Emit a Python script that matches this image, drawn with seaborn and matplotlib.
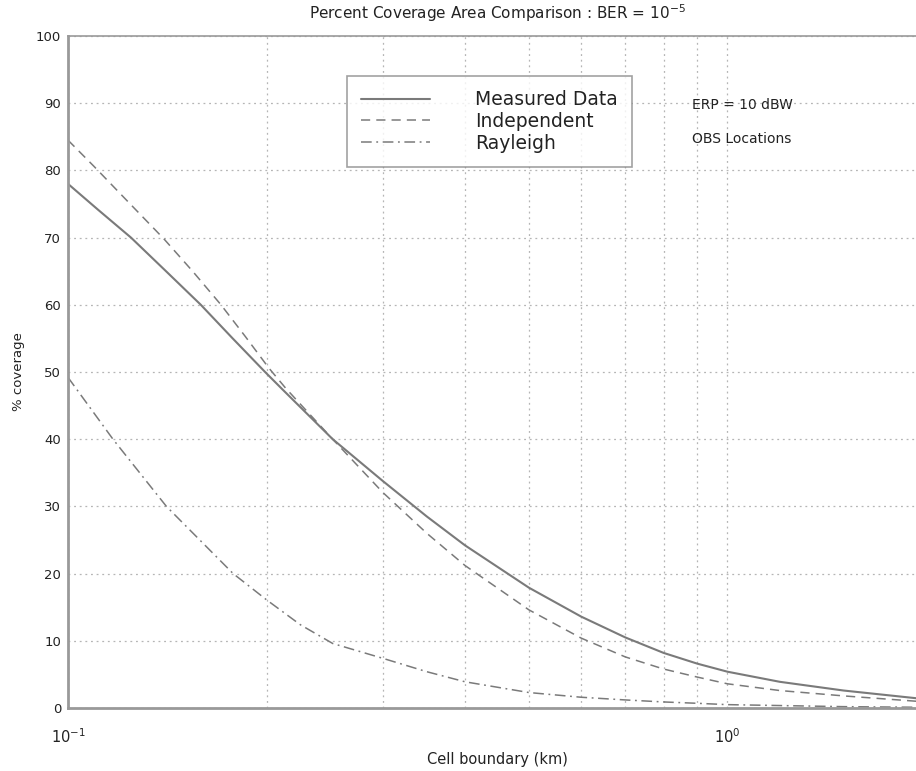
import numpy as np
import pandas as pd
import seaborn as sns
import matplotlib
matplotlib.use("Agg")
import matplotlib.pyplot as plt
from matplotlib.ticker import FixedLocator, NullFormatter

# Cell boundary (km) and % coverage for each model
measured_x = [0.1, 0.1109, 0.1246, 0.1408, 0.159, 0.1777, 0.199, 0.2115, 0.252, 0.3, 0.35, 0.4,
              0.5, 0.6, 0.7, 0.8, 0.9, 1.0, 1.2, 1.5, 2.0]
measured_y = [78.0, 74.2, 70.0, 65.0, 60.0, 55.0, 50.0, 47.4, 40.0, 33.8, 28.5, 24.2,
              17.9, 13.6, 10.5, 8.2, 6.6, 5.4, 3.9, 2.6, 1.3]

independent_x = [0.1, 0.1095, 0.1237, 0.1398, 0.1545, 0.1706, 0.186, 0.2016, 0.2138, 0.252, 0.3,
                 0.35, 0.4, 0.5, 0.6, 0.7, 0.8, 0.9, 1.0, 1.2, 1.5, 2.0]
independent_y = [84.5, 80.6, 75.2, 69.8, 65.0, 60.0, 55.2, 50.6, 47.6, 40.0, 32.1,
                 26.0, 21.2, 14.6, 10.4, 7.6, 5.8, 4.6, 3.6, 2.6, 1.8, 0.9]

rayleigh_x = [0.1, 0.117, 0.141, 0.178, 0.2, 0.225, 0.252, 0.3, 0.35, 0.4, 0.5, 0.6, 0.7, 0.8,
              0.9, 1.0, 1.5, 2.0]
rayleigh_y = [49.2, 40.0, 30.0, 20.0, 16.1, 12.4, 9.6, 7.4, 5.4, 3.9, 2.3, 1.6, 1.2, 0.9,
              0.7, 0.5, 0.2, 0.1]

series_names = ["Measured Data", "Independent", "Rayleigh"]
y_ticks = list(range(0, 101, 10))

sns.set_theme(style="white")
plt.rcParams["font.family"] = ["DejaVu Sans"]
plt.rcParams["mathtext.fontset"] = "dejavusans"

text_color = "#222222"
line_color = "#7a7a7a"
grid_color = "#b5b5b5"

fig = plt.figure(figsize=(9.16, 7.71), dpi=100)
ax = fig.add_axes([68 / 916, (771 - 708) / 771, (926 - 68) / 916, (708 - 36) / 771])

frames = [
    pd.DataFrame({"x": measured_x, "y": measured_y}),
    pd.DataFrame({"x": independent_x, "y": independent_y}),
    pd.DataFrame({"x": rayleigh_x, "y": rayleigh_y}),
]
styles = [
    dict(linestyle="-", linewidth=1.5),
    dict(linestyle=(0, (6, 4)), linewidth=1.1),
    dict(linestyle=(0, (7, 3, 1.2, 3)), linewidth=1.1),
]
for df, name, st in zip(frames, series_names, styles):
    sns.lineplot(data=df, x="x", y="y", ax=ax, color=line_color, label=name, **st)

ax.set_xscale("log")
ax.set_xlim(0.1, 2.0)
ax.set_ylim(0, 100)
ax.set_yticks(y_ticks)
ax.set_yticklabels([str(t) for t in y_ticks])
ax.xaxis.set_major_locator(FixedLocator([0.1, 1.0]))
ax.set_xticklabels([r"$10^{-1}$", r"$10^{0}$"])
ax.xaxis.set_minor_locator(FixedLocator([0.2, 0.3, 0.4, 0.5, 0.6, 0.7, 0.8, 0.9]))
ax.xaxis.set_minor_formatter(NullFormatter())

ax.grid(True, which="both", axis="x", linestyle=(0, (1.5, 3)), color=grid_color, linewidth=0.9)
ax.grid(True, which="major", axis="y", linestyle=(0, (1.5, 3)), color=grid_color, linewidth=0.9)

ax.tick_params(axis="both", which="both", direction="in", length=5, width=1,
               color="#888888", labelsize=9.5, labelcolor=text_color)
ax.tick_params(axis="x", which="major", labelsize=10.5, pad=14)
ax.tick_params(axis="y", which="major", pad=5)

for side in ["left", "bottom", "top", "right"]:
    ax.spines[side].set_visible(True)
    ax.spines[side].set_color("#999999")
ax.spines["left"].set_linewidth(2.0)
ax.spines["bottom"].set_linewidth(2.0)
ax.spines["top"].set_linewidth(1.2)

ax.set_xlabel("Cell boundary (km)", fontsize=10.5, color=text_color, labelpad=4)
ax.set_ylabel("% coverage", fontsize=9.5, color=text_color, labelpad=8)
ax.set_title(r"Percent Coverage Area Comparison : BER = 10$^{-5}$", fontsize=11,
             color=text_color, pad=12)

leg = ax.legend(loc="upper left", bbox_to_anchor=((347 - 68) / 858, (708 - 76) / 672),
                frameon=True, fancybox=False, fontsize=13.5, handlelength=3.7,
                handletextpad=2.4, borderpad=0.75, labelspacing=0.15, borderaxespad=0)
leg.get_frame().set_edgecolor("#8a8a8a")
leg.get_frame().set_linewidth(1.2)
for t in leg.get_texts():
    t.set_color(text_color)

ax.text(0.885, 89.8, "ERP = 10 dBW", fontsize=10, color=text_color, va="center", ha="left")
ax.text(0.885, 84.6, "OBS Locations", fontsize=10, color=text_color, va="center", ha="left")

fig.savefig("out.png", dpi=100)
